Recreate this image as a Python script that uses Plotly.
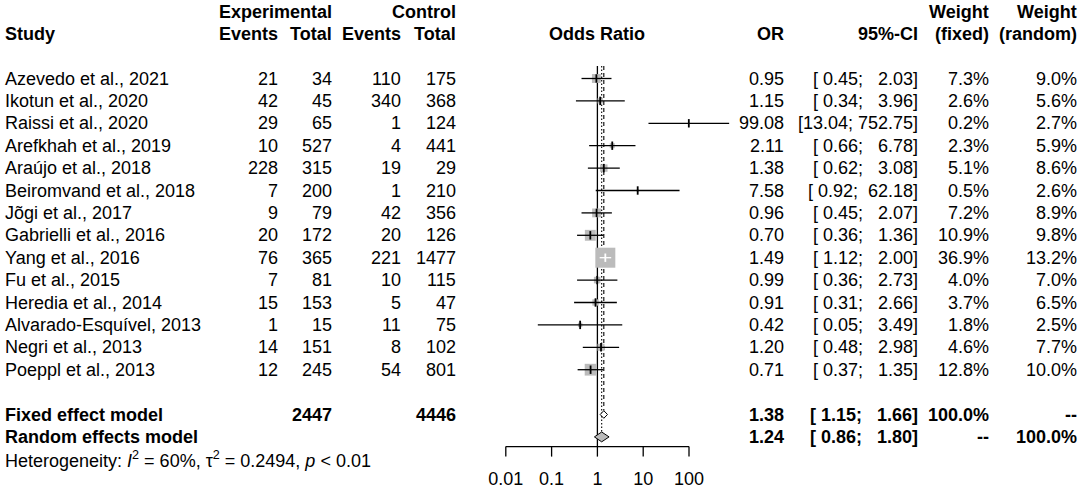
import numpy as np
import plotly.graph_objects as go

# ---- data ----
studies = ["Azevedo et al., 2021", "Ikotun et al., 2020", "Raissi et al., 2020",
           "Arefkhah et al., 2019", "Araújo et al., 2018", "Beiromvand et al., 2018",
           "Jõgi et al., 2017", "Gabrielli et al., 2016", "Yang et al., 2016",
           "Fu et al., 2015", "Heredia et al., 2014", "Alvarado-Esquível, 2013",
           "Negri et al., 2013", "Poeppl et al., 2013"]
exp_events = [21, 42, 29, 10, 228, 7, 9, 20, 76, 7, 15, 1, 14, 12]
exp_total = [34, 45, 65, 527, 315, 200, 79, 172, 365, 81, 153, 15, 151, 245]
ctrl_events = [110, 340, 1, 4, 19, 1, 42, 20, 221, 10, 5, 11, 8, 54]
ctrl_total = [175, 368, 124, 441, 29, 210, 356, 126, 1477, 115, 47, 75, 102, 801]
odds = [0.95, 1.15, 99.08, 2.11, 1.38, 7.58, 0.96, 0.70, 1.49, 0.99, 0.91, 0.42, 1.20, 0.71]
ci_lo = [0.45, 0.34, 13.04, 0.66, 0.62, 0.92, 0.45, 0.36, 1.12, 0.36, 0.31, 0.05, 0.48, 0.37]
ci_hi = [2.03, 3.96, 752.75, 6.78, 3.08, 62.18, 2.07, 1.36, 2.00, 2.73, 2.66, 3.49, 2.98, 1.35]
w_fixed = [7.3, 2.6, 0.2, 2.3, 5.1, 0.5, 7.2, 10.9, 36.9, 4.0, 3.7, 1.8, 4.6, 12.8]
w_random = [9.0, 5.6, 2.7, 5.9, 8.6, 2.6, 8.9, 9.8, 13.2, 7.0, 6.5, 2.5, 7.7, 10.0]

fixed_sum = [1.38, 1.15, 1.66]    # OR, lower, upper
random_sum = [1.24, 0.86, 1.80]
exp_sum, ctrl_sum = 2447, 4446
het_text = "Heterogeneity: <i>I</i><sup>2</sup> = 60%, τ<sup>2</sup> = 0.2494, <i>p</i> &lt; 0.01"

ticks = [0.01, 0.1, 1, 10, 100]
tick_labels = ["0.01", "0.1", "1", "10", "100"]

# ---- geometry ----
W, H = 1084, 492
FONT = "Liberation Sans, Arial, sans-serif"
FS = 18
PX_DEC = 45.8      # pixels per decade on the OR scale
X1 = 597.4         # pixel of OR = 1
ROW0, ROWH = 78.5, 22.4
ROW_FIXED, ROW_RANDOM, ROW_HET = 15, 16, 17
AXIS_Y = 16.43
BOX_MAX = 20
GREY = "#BBBBBB"

rows = np.arange(len(studies))
nb = "\u00a0"


def fmt_ci(lo, hi):
    return ("[" + f"{lo:.2f}".rjust(5) + "; " + f"{hi:.2f}".rjust(6) + "]").replace(" ", nb)


annotations = []


def txt(x, y, s, anchor="right", bold=False, size=FS):
    if bold:
        s = "<b>" + s + "</b>"
    annotations.append(dict(x=x / W, xref="paper", y=y, yref="y", text=s,
                            showarrow=False, xanchor=anchor, yanchor="middle",
                            borderpad=0, borderwidth=0,
                            font=dict(family=FONT, size=size, color="black")))


# headers
txt(332, -2.97, "Experimental", bold=True)
txt(455.5, -2.97, "Control", bold=True)
txt(988.5, -2.97, "Weight", bold=True)
txt(1077, -2.97, "Weight", bold=True)
txt(5, -2, "Study", anchor="left", bold=True)
for xr, s in [(277.5, "Events"), (332, "Total"), (401, "Events"), (455.5, "Total"),
              (783.5, "OR"), (917.5, "95%-CI"), (988.5, "(fixed)"), (1077, "(random)")]:
    txt(xr, -2, s, bold=True)
txt(597.4, -2, "Odds Ratio", anchor="center", bold=True)

# study rows
for i in rows:
    txt(5, i, studies[i], anchor="left")
    txt(277.5, i, str(exp_events[i]))
    txt(332, i, str(exp_total[i]))
    txt(401, i, str(ctrl_events[i]))
    txt(455.5, i, str(ctrl_total[i]))
    txt(783.5, i, f"{odds[i]:.2f}")
    txt(917.5, i, fmt_ci(ci_lo[i], ci_hi[i]))
    txt(988.5, i, f"{w_fixed[i]:.1f}%")
    txt(1077, i, f"{w_random[i]:.1f}%")

# summary rows
txt(5, ROW_FIXED, "Fixed effect model", anchor="left", bold=True)
txt(332, ROW_FIXED, str(exp_sum), bold=True)
txt(455.5, ROW_FIXED, str(ctrl_sum), bold=True)
txt(783.5, ROW_FIXED, f"{fixed_sum[0]:.2f}", bold=True)
txt(917.5, ROW_FIXED, fmt_ci(fixed_sum[1], fixed_sum[2]), bold=True)
txt(988.5, ROW_FIXED, "100.0%", bold=True)
txt(1077, ROW_FIXED, "--", bold=True)
txt(5, ROW_RANDOM, "Random effects model", anchor="left", bold=True)
txt(783.5, ROW_RANDOM, f"{random_sum[0]:.2f}", bold=True)
txt(917.5, ROW_RANDOM, fmt_ci(random_sum[1], random_sum[2]), bold=True)
txt(988.5, ROW_RANDOM, "--", bold=True)
txt(1077, ROW_RANDOM, "100.0%", bold=True)
txt(5, ROW_HET, het_text, anchor="left")

fig = go.Figure()

# reference lines (drawn first, boxes go over them)
fig.add_trace(go.Scatter(x=[1, 1], y=[-0.56, AXIS_Y], mode="lines", hoverinfo="skip",
                         line=dict(color="black", width=1.3)))
fig.add_trace(go.Scatter(x=[fixed_sum[0]] * 2, y=[-0.56, ROW_FIXED - 0.18], mode="lines",
                         hoverinfo="skip", line=dict(color="black", width=1.1, dash="4px,3px")))
fig.add_trace(go.Scatter(x=[random_sum[0]] * 2, y=[-0.56, ROW_RANDOM - 0.22], mode="lines",
                         hoverinfo="skip", line=dict(color="black", width=1.1, dash="1.5px,2px")))

# squares sized by fixed weight
box_px = [BOX_MAX * np.sqrt(w / max(w_fixed)) for w in w_fixed]
fig.add_trace(go.Scatter(x=odds, y=rows, mode="markers", hoverinfo="skip",
                         marker=dict(symbol="square", size=box_px, color=GREY, opacity=1,
                                     line=dict(width=0))))

# confidence intervals: white if completely inside the box
bx, by, wx, wy, tick_col = [], [], [], [], []
for i in rows:
    half = box_px[i] / 2 / PX_DEC
    inside = (np.log10(ci_hi[i] / odds[i]) < half) and (np.log10(odds[i] / ci_lo[i]) < half)
    if inside:
        wx += [ci_lo[i], ci_hi[i], None]
        wy += [i, i, None]
        tick_col.append("white")
    else:
        bx += [ci_lo[i], ci_hi[i], None]
        by += [i, i, None]
        tick_col.append("black")
fig.add_trace(go.Scatter(x=bx, y=by, mode="lines", hoverinfo="skip",
                         line=dict(color="black", width=1.3)))
fig.add_trace(go.Scatter(x=wx, y=wy, mode="lines", hoverinfo="skip",
                         line=dict(color="white", width=1.3)))
fig.add_trace(go.Scatter(x=odds, y=rows, mode="markers", hoverinfo="skip",
                         marker=dict(symbol="line-ns", size=6,
                                     line=dict(width=1.8, color=tick_col))))

# diamonds
for summ, row, half, fill in [(fixed_sum, ROW_FIXED, 0.17, "white"),
                              (random_sum, ROW_RANDOM, 0.22, GREY)]:
    est, lo, hi = summ
    fig.add_trace(go.Scatter(x=[lo, est, hi, est, lo], y=[row, row - half, row, row + half, row],
                             mode="lines", fill="toself", fillcolor=fill, hoverinfo="skip",
                             line=dict(color="black", width=1)))

# OR axis
tx, ty = [], []
for t in ticks:
    tx += [t, t, None]
    ty += [AXIS_Y, AXIS_Y + 0.45, None]
fig.add_trace(go.Scatter(x=[ticks[0], ticks[-1]], y=[AXIS_Y, AXIS_Y], mode="lines",
                         hoverinfo="skip", line=dict(color="black", width=1.3)))
fig.add_trace(go.Scatter(x=tx, y=ty, mode="lines", hoverinfo="skip",
                         line=dict(color="black", width=1.3)))
fig.add_trace(go.Scatter(x=ticks, y=[17.95] * len(ticks), mode="text", text=tick_labels,
                         textposition="middle center", hoverinfo="skip",
                         textfont=dict(family=FONT, size=FS, color="black")))

fig.update_layout(
    width=W, height=H, margin=dict(l=0, r=0, t=0, b=0),
    paper_bgcolor="white", plot_bgcolor="white", showlegend=False,
    xaxis=dict(type="log", range=[-X1 / PX_DEC, (W - X1) / PX_DEC], visible=False),
    yaxis=dict(range=[(H - ROW0) / ROWH, -ROW0 / ROWH], visible=False),
    annotations=annotations,
)

fig.write_html("out.html", config={"displayModeBar": False},
               post_script="document.body.style.margin='0';")
